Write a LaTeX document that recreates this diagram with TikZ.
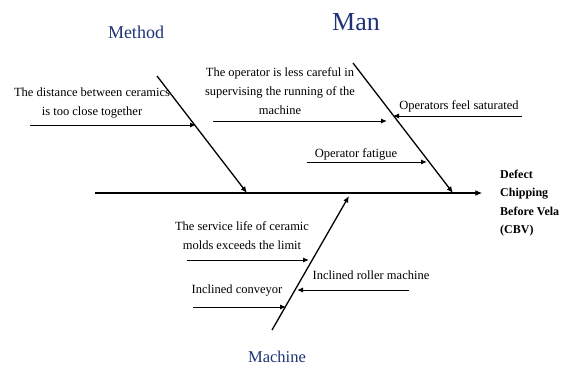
\documentclass[tikz,border=0pt]{standalone}
\usepackage{fontspec}
\setmainfont{Liberation Serif}
\usetikzlibrary{arrows.meta}
\definecolor{navy}{HTML}{1F3476}
\begin{document}
\begin{tikzpicture}[x=1pt,y=-1pt,
  spine/.style={line width=1.6pt,-{Latex[length=7pt,width=6pt]}},
  bone/.style={line width=1.3pt,-{Latex[length=6.5pt,width=5.5pt]}},
  cause/.style={line width=1pt,-{Latex[length=6pt,width=5pt]}},
  lbl/.style={font=\fontsize{12.5}{19}\selectfont,inner sep=0pt,align=center},
  cat/.style={text=navy,inner sep=0pt},
]
\useasboundingbox (0,0) rectangle (571,365);
% spine
\coordinate (tail) at (95,193);
\node[inner sep=0pt] (head) at (483,193) {};
\draw[spine] (tail) -- (head);
% bones
\coordinate (mtop) at (157,76);
\coordinate (mend) at (247,193);
\draw[bone] (mtop) -- (mend);
\coordinate (ntop) at (353,63);
\coordinate (nend) at (453,193);
\draw[bone] (ntop) -- (nend);
\coordinate (cbot) at (272,330);
\coordinate (cend) at (349,196);
\draw[bone] (cbot) -- (cend);
% category labels
\node[cat,font=\fontsize{18}{20}\selectfont] (method) at (136,32) {Method};
\node[cat,font=\fontsize{26}{28}\selectfont] (man) at (356,22) {Man};
\node[cat,font=\fontsize{16.5}{18}\selectfont] (machine) at (277,357) {Machine};
% effect
\node[anchor=west,align=left,font=\fontsize{12}{18.5}\selectfont\bfseries,inner sep=0pt] (effect) at (500,203) {Defect\\Chipping\\Before Vela\\(CBV)};
% method cause
\node[lbl] (t1) at (92,103) {The distance between ceramics\\is too close together};
\coordinate (a1s) at (30,125); \coordinate (a1e) at (196,125);
\draw[cause] (a1s) -- (a1e);
% man causes
\node[lbl] (t2) at (280,91) {The operator is less careful in\\supervising the running of the\\machine};
\coordinate (a2s) at (213,121); \coordinate (a2e) at (387,121);
\draw[cause] (a2s) -- (a2e);
\node[lbl] (t3) at (459,106) {Operators feel saturated};
\coordinate (a3s) at (522,116); \coordinate (a3e) at (393,116);
\draw[cause] (a3s) -- (a3e);
\node[lbl] (t4) at (356,154) {Operator fatigue};
\coordinate (a4s) at (307,162); \coordinate (a4e) at (427,162);
\draw[cause] (a4s) -- (a4e);
% machine causes
\node[lbl] (t5) at (242,236) {The service life of ceramic\\molds exceeds the limit};
\coordinate (a5s) at (187,260); \coordinate (a5e) at (309,260);
\draw[cause] (a5s) -- (a5e);
\node[lbl] (t6) at (371,275) {Inclined roller machine};
\coordinate (a6s) at (409,290); \coordinate (a6e) at (297,290);
\draw[cause] (a6s) -- (a6e);
\node[lbl] (t7) at (237,291) {Inclined conveyor};
\coordinate (a7s) at (193,307); \coordinate (a7e) at (286,307);
\draw[cause] (a7s) -- (a7e);
\end{tikzpicture}
\end{document}
